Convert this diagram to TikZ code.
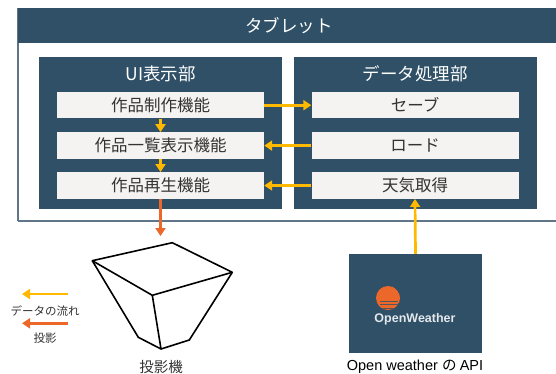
\documentclass[tikz,border=0pt]{standalone}
\usepackage{fontspec}
\setmainfont{Noto Sans CJK JP}
\newfontfamily\latinsans{Liberation Sans}
\usetikzlibrary{arrows.meta}

\definecolor{navy}{RGB}{47,80,102}
\definecolor{framegray}{RGB}{96,118,136}
\definecolor{boxgray}{RGB}{244,243,241}
\definecolor{flowyellow}{RGB}{255,185,0}
\definecolor{projorange}{RGB}{236,104,42}
\definecolor{inkgray}{RGB}{51,51,51}
\definecolor{logowhite}{RGB}{228,232,236}

\tikzset{
  x=1pt, y=-1pt,
  fsize/.style={font=\fontsize{#1}{#1}\selectfont},
  block/.style={fill=navy, draw=none, inner sep=0pt},
  title/.style={text=white, fsize=17.5, inner sep=0pt},
  funcbox/.style={fill=boxgray, draw=none, minimum width=207pt, minimum height=26.5pt,
                  inner sep=0pt, text=inkgray, fsize=16.5},
  flow/.style={draw=flowyellow, line width=2.7pt,
               -{Triangle[length=8pt,width=10pt]}},
  proj/.style={draw=projorange, line width=2.7pt,
               -{Triangle[length=8pt,width=10pt]}},
  legendtext/.style={text=inkgray, fsize=11.5, inner sep=0pt},
  projector/.style={draw=black, line width=1.6pt, line join=round},
}

\begin{document}
\begin{tikzpicture}
\useasboundingbox (0,0) rectangle (556,374);
\fill[white] (0,0) rectangle (556,374);

% tablet frame and its header band
\draw[framegray, line width=1.2pt] (18,221) -- (18,8.3) -- (560,8.3) (18,221) -- (560,221);
\node[block, minimum width=542pt, minimum height=35pt, anchor=north west,
      text=white, fsize=17.5] (tablet) at (18,8.3) {タブレット};

% the two parts inside the tablet
\node[block, minimum width=242.7pt, minimum height=152.6pt] (ui) at (160.65,133) {};
\node[block, minimum width=242.7pt, minimum height=152.6pt] (data) at (415.35,133) {};
\node[title] (uititle) at (160.65,74) {UI表示部};
\node[title] (datatitle) at (415.35,74) {データ処理部};

% functions
\node[funcbox] (f1) at (160.5,105.2) {作品制作機能};
\node[funcbox] (f2) at (160.5,145.6) {作品一覧表示機能};
\node[funcbox] (f3) at (160.5,185.5) {作品再生機能};
\node[funcbox] (s1) at (415,105.2) {セーブ};
\node[funcbox] (s2) at (415,145.6) {ロード};
\node[funcbox] (s3) at (415,185.5) {天気取得};

% data flow inside the tablet
\draw[flow] (f1.east) -- (s1.west);
\draw[flow] (f1.south) -- (f2.north);
\draw[flow] (f2.south) -- (f3.north);
\draw[flow] (s2.west) -- (f2.east);
\draw[flow] (s3.west) -- (f3.east);

% weather service
\node[block, minimum width=133pt, minimum height=99pt] (ow) at (415.5,303.5) {};
\begin{scope}
  \clip (388,298) circle (12);
  \fill[projorange] (388,298) circle (12);
  \foreach \yy in {301,304.5,308} {
    \draw[navy!80!projorange, line width=0.8pt] (380,\yy) -- (398,\yy);
  }
\end{scope}
\node[inner sep=0pt, text=logowhite, font=\latinsans\bfseries\fontsize{12.5}{12.5}\selectfont]
  (owlogo) at (415,319.5) {OpenWeather};
\node[inner sep=0pt, text=black, fsize=14.5] (owlabel) at (415,366.7)
  {\latinsans Open weather \normalfont の \latinsans API};
\draw[flow] (ow.north) -- (s3.south);

% projector
\coordinate (pa) at (92.3,260.7);
\coordinate (pb) at (172.3,242.7);
\coordinate (pc) at (232.3,272.3);
\coordinate (pd) at (152.3,295.3);
\coordinate (pe) at (138.3,337.3);
\coordinate (pf) at (161,349);
\coordinate (pg) at (189.3,340);
\draw[projector] (pa) -- (pb) -- (pc) -- (pd) -- cycle;
\draw[projector] (pa) -- (pe) -- (pf) -- (pg) -- (pc);
\draw[projector] (pd) -- (pf);
\node[inner sep=0pt, text=inkgray, fsize=14.5] (projlabel) at (161,366.7) {投影機};
\coordinate (projtop) at (160.5,236);
\draw[proj] (f3.south) -- (projtop);

% legend
\coordinate (ly0) at (68,294);
\coordinate (ly1) at (22,294);
\coordinate (lo0) at (68,323.3);
\coordinate (lo1) at (22,323.3);
\draw[flow] (ly0) -- (ly1);
\node[legendtext] (lflow) at (45,310.7) {データの流れ};
\draw[proj] (lo0) -- (lo1);
\node[legendtext] (lproj) at (45,338.3) {投影};
\end{tikzpicture}
\end{document}
